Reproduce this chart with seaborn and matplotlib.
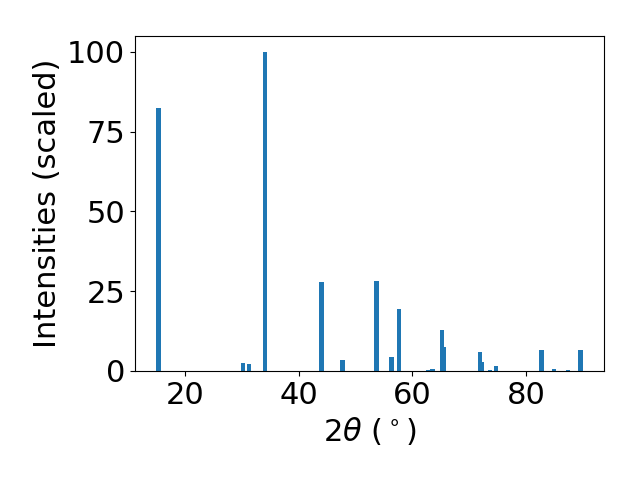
import seaborn as sns
import pandas as pd
import numpy as np
import matplotlib
matplotlib.use('Agg')
import matplotlib.pyplot as plt

# peak positions (2theta, degrees) and scaled intensities
two_theta=[15.4,30.2,31.3,34.1,44.0,47.7,53.7,56.3,57.6,62.8,63.5,65.2,65.5,
           71.9,72.2,73.6,74.7,82.7,84.9,87.3,89.5]
intensities=[82.4,2.6,2.2,100.0,27.9,3.4,28.2,4.4,19.4,0.3,0.6,12.8,7.5,
             6.0,2.8,0.3,1.5,6.5,0.6,0.3,6.5]

bar_w=0.8  # same as plt.bar default

df=pd.DataFrame({'two_theta':two_theta,'intensity':intensities})

plt.rcParams['font.size']=22
fig,ax=plt.subplots(figsize=(6.4,4.8),dpi=100)

#native scale: seaborn multiplies width by the smallest spacing between x values
min_gap=np.diff(np.sort(df['two_theta'].unique())).min()
sns.barplot(data=df,x='two_theta',y='intensity',native_scale=True,
            width=bar_w/min_gap,color='C0',saturation=1,errorbar=None,ax=ax)

ax.set_xlabel(r'$2\theta$ ($^\circ$)')
ax.set_ylabel('Intensities (scaled)')
ax.set_xticks([20,40,60,80])
ax.set_yticks([0,25,50,75,100])
ax.margins(x=0.05,y=0.05)
ax.set_ylim(0,105)

fig.subplots_adjust(left=135/640,right=604/640,top=1-36/480,bottom=1-371/480)
fig.savefig('out.png')
